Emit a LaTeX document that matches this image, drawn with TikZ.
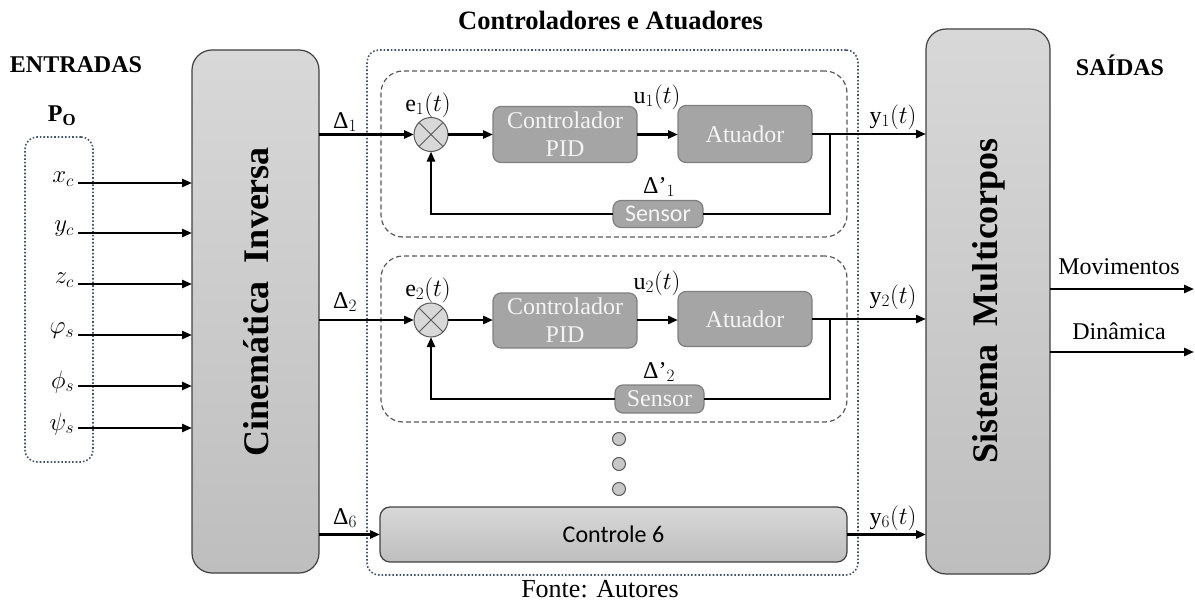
\documentclass[tikz,border=0pt]{standalone}
\usepackage{fontspec}
\setmainfont{Liberation Serif}
\newfontfamily\calibri{Carlito}
\usetikzlibrary{arrows.meta,shapes.geometric}
\definecolor{blkfill}{HTML}{A5A5A5}
\definecolor{blkline}{HTML}{7F7F7F}
\definecolor{gtop}{HTML}{D8D8D8}
\definecolor{gbot}{HTML}{BEBEBE}
\definecolor{dotblue}{HTML}{44546A}
\definecolor{dashgray}{HTML}{595959}
\definecolor{darkline}{HTML}{404040}
\definecolor{txtwhite}{HTML}{F4F4F4}
\definecolor{dotfill}{HTML}{C8C8C8}
\begin{document}
\begin{tikzpicture}[x=1pt,y=-1pt,
  every node/.style={font=\fontsize{24}{28}\selectfont, inner sep=0pt, outer sep=0pt},
  bigbox/.style={draw=darkline, line width=1.2pt, rounded corners=20pt, top color=gtop, bottom color=gbot},
  bigtxt/.style={rotate=90, font=\fontsize{36}{40}\selectfont\bfseries},
  blk/.style={draw=blkline, line width=1.2pt, fill=blkfill, rounded corners=8pt, text=txtwhite, align=center},
  dotbox/.style={draw=dotblue, dotted, line width=1.6pt, rounded corners=12pt},
  dashbox/.style={draw=dashgray, dash pattern=on 5pt off 3pt, line width=1.2pt, rounded corners=22pt},
  sumj/.style={circle, draw=dashgray, line width=1pt, fill=gtop, minimum size=34pt},
  dotc/.style={circle, draw=dashgray, line width=1pt, fill=dotfill, minimum size=13pt},
  wire/.style={line width=2.8pt},
  arr/.style={line width=2.8pt, -{Triangle[length=10pt,width=8pt]}},
  hdr/.style={font=\fontsize{24}{28}\selectfont\bfseries},
  lbl/.style={font=\fontsize{24}{28}\selectfont}
]
\useasboundingbox (0,0) rectangle (1195,602);

% headers
\node[hdr] (hin) at (76,65) {ENTRADAS};
\node[hdr] (hout) at (1120,65) {SAÍDAS};
\node[font=\fontsize{26.5}{30}\selectfont\bfseries] (htitle) at (610.5,20) {Controladores e Atuadores};
\node[font=\fontsize{26}{30}\selectfont] (fonte) at (600,589) {Fonte: Autores};

% main blocks
\node[bigbox, minimum width=127pt, minimum height=523pt] (cin) at (255.5,311.5) {};
\node[bigtxt] (cintxt) at (256,302) {Cinemática\ \ Inversa};
\node[bigbox, minimum width=124pt, minimum height=545pt] (sis) at (988,301.5) {};
\node[bigtxt] (sistxt) at (989,301) {Sistema\ \ Multicorpos};

% containers
\node[dotbox, minimum width=491pt, minimum height=525pt] (outer) at (612.5,312.5) {};
\node[dashbox, minimum width=466pt, minimum height=166pt] (d1) at (614,154) {};
\node[dashbox, minimum width=466pt, minimum height=166pt] (d2) at (614,339) {};
\node[draw=darkline, line width=1.2pt, rounded corners=10pt, top color=gtop, bottom color=gbot,
      minimum width=467pt, minimum height=55pt, font=\calibri\fontsize{24}{28}\selectfont] (c6) at (613.5,534.5) {Controle 6};

% inputs
\node[dotbox, minimum width=68pt, minimum height=325pt] (pbox) at (59,299.5) {};
\node[hdr] (po) at (62,116) {P$_{\mathbf{O}}$};
\node[font=\fontsize{26}{30}\selectfont, anchor=east] (lx) at (74,179) {$x_c$};
\node[font=\fontsize{26}{30}\selectfont, anchor=east] (ly) at (74,229) {$y_c$};
\node[font=\fontsize{26}{30}\selectfont, anchor=east] (lz) at (74,280) {$z_c$};
\node[font=\fontsize{26}{30}\selectfont, anchor=east] (lvp) at (74,331) {$\varphi_s$};
\node[font=\fontsize{26}{30}\selectfont, anchor=east] (lph) at (74,382) {$\phi_s$};
\node[font=\fontsize{26}{30}\selectfont, anchor=east] (lps) at (74,424) {$\psi_s$};
\coordinate (i1) at (78,183);
\coordinate (i2) at (78,233);
\coordinate (i3) at (78,284);
\coordinate (i4) at (78,335);
\coordinate (i5) at (78,386);
\coordinate (i6) at (78,428);
\foreach \i in {1,...,6}{\draw[arr] (i\i) -- (i\i -| cin.west);}

% row 1
\node[sumj] (s1) at (431,134.5) {};
\draw[dashgray, line width=1pt] (s1.north west) -- (s1.south east) (s1.north east) -- (s1.south west);
\node[blk, minimum width=144pt, minimum height=56pt] (pid1) at (565,134.5) {Controlador\\PID};
\node[blk, minimum width=134pt, minimum height=57pt] (act1) at (745,134) {Atuador};
\node[blk, minimum width=90pt, minimum height=27pt, font=\calibri\fontsize{24}{28}\selectfont] (sen1) at (658,214) {Sensor};
\node[lbl] (e1) at (428,105) {e$_1(t)$};
\node[lbl] (u1) at (657,97) {u$_1(t)$};
\node[lbl] (dp1) at (659,187) {Δ’$_1$};
\node[lbl] (D1) at (345,122) {Δ$_1$};
\node[lbl] (y1) at (893,117) {y$_1(t)$};
\draw[arr] (cin.east |- s1.west) -- (s1.west);
\draw[arr] (s1.east) -- (pid1.west);
\draw[arr] (pid1.east) -- (pid1.east -| act1.west);
\draw[arr] (act1.east) -- (act1.east -| sis.west);
\coordinate (f1) at (830,134);
\draw[wire] (f1) |- (sen1.east);
\draw[arr] (sen1.west) -| (s1.south);

% row 2
\node[sumj] (s2) at (431,320) {};
\draw[dashgray, line width=1pt] (s2.north west) -- (s2.south east) (s2.north east) -- (s2.south west);
\node[blk, minimum width=144pt, minimum height=55pt] (pid2) at (565,320.5) {Controlador\\PID};
\node[blk, minimum width=134pt, minimum height=55pt] (act2) at (745,319) {Atuador};
\node[blk, minimum width=89pt, minimum height=28pt] (sen2) at (659.5,399) {Sensor};
\node[lbl] (e2) at (428,290) {e$_2(t)$};
\node[lbl] (u2) at (657,283) {u$_2(t)$};
\node[lbl] (dp2) at (659,372) {Δ’$_2$};
\node[lbl] (D2) at (345,302) {Δ$_2$};
\node[lbl] (y2) at (893,297) {y$_2(t)$};
\draw[arr] (cin.east |- s2.west) -- (s2.west);
\draw[arr] (s2.east) -- (s2.east -| pid2.west);
\draw[arr] (pid2.east |- s2.east) -- (s2.east -| act2.west);
\draw[arr] (act2.east) -- (act2.east -| sis.west);
\coordinate (f2) at (830,319);
\draw[wire] (f2) |- (sen2.east);
\draw[arr] (sen2.west) -| (s2.south);

% dots
\node[dotc] (k1) at (619,439) {};
\node[dotc] (k2) at (619,464) {};
\node[dotc] (k3) at (619,489) {};

% row 6
\node[lbl] (D6) at (345,518) {Δ$_6$};
\node[lbl] (y6) at (893,518) {y$_6(t)$};
\draw[arr] (cin.east |- c6.west) -- (c6.west);
\draw[arr] (c6.east) -- (c6.east -| sis.west);

% outputs
\node[lbl] (mov) at (1119,267) {Movimentos};
\node[lbl] (din) at (1119,331) {Dinâmica};
\coordinate (o1) at (1194,289);
\coordinate (o2) at (1194,352);
\draw[arr] (o1 -| sis.east) -- (o1);
\draw[arr] (o2 -| sis.east) -- (o2);
\end{tikzpicture}
\end{document}
